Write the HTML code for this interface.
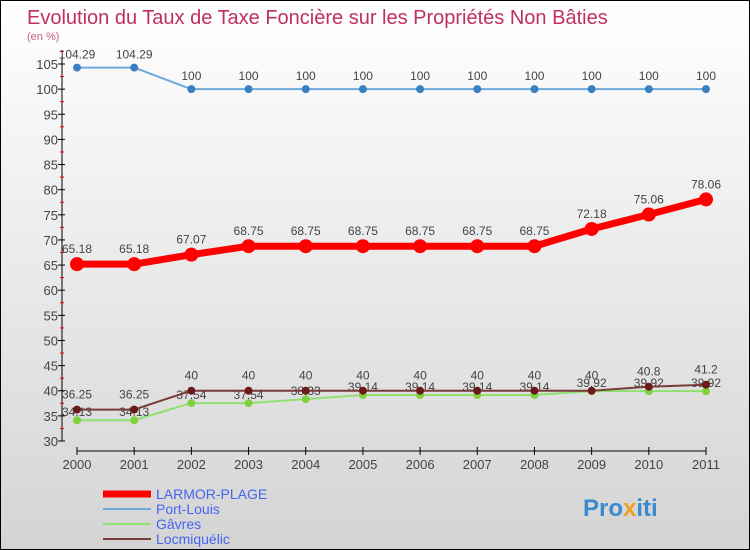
<!DOCTYPE html>
<html><head><meta charset="utf-8"><style>
body{margin:0;}
#wrap{width:750px;height:550px;position:relative;font-family:"Liberation Sans",sans-serif;background:linear-gradient(#fff,#d4d4d4);border:1px solid #000;box-sizing:border-box;overflow:hidden}
</style></head><body>
<div id="wrap">
<svg id="chart" width="750" height="550" xmlns="http://www.w3.org/2000/svg">
<text x="26" y="23" font-size="20" fill="#c0305e">Evolution du Taux de Taxe Foncière sur les Propriétés Non Bâties</text>
<text x="26" y="39" font-size="11" fill="#c0608a">(en %)</text>
<g id="axes"></g><g id="series"></g>
<g>
<line x1="102" y1="493" x2="150" y2="493" stroke="#f00" stroke-width="7"/>
<text x="155" y="498" font-size="14" fill="#4466ee">LARMOR-PLAGE</text>
<line x1="102" y1="508" x2="150" y2="508" stroke="#6fa8dc" stroke-width="2"/>
<text x="155" y="513" font-size="14" fill="#4466ee">Port-Louis</text>
<line x1="102" y1="523" x2="150" y2="523" stroke="#90e070" stroke-width="2"/>
<text x="155" y="528" font-size="14" fill="#4466ee">Gâvres</text>
<line x1="102" y1="538" x2="150" y2="538" stroke="#7a3a3a" stroke-width="2"/>
<text x="155" y="543" font-size="14" fill="#4466ee">Locmiquélic</text>
</g>
<text x="582" y="515" font-size="24" font-weight="bold" fill="#3a8ad0">Pro<tspan fill="#f0a020">x</tspan>iti</text>
</svg>
</div>
<script>
const years=["2000","2001","2002","2003","2004","2005","2006","2007","2008","2009","2010","2011"];
const yTicks=[30,35,40,45,50,55,60,65,70,75,80,85,90,95,100,105];
const larmor=[65.18,65.18,67.07,68.75,68.75,68.75,68.75,68.75,68.75,72.18,75.06,78.06];
const portLouis=[104.29,104.29,100,100,100,100,100,100,100,100,100,100];
const gavres=[34.13,34.13,37.54,37.54,38.33,39.14,39.14,39.14,39.14,39.92,39.92,39.92];
const locmi=[36.25,36.25,40,40,40,40,40,40,40,40,40.8,41.2];
const NS="http://www.w3.org/2000/svg";
const X=i=>76+i*(705-76)/11;
const Y=v=>440-(v-30)*(440-63)/75;
function mk(t,a,p){const e=document.createElementNS(NS,t);for(const k in a)e.setAttribute(k,a[k]);p.appendChild(e);return e;}
const ax=document.getElementById('axes'),sg=document.getElementById('series');
const yl=mk('line',{x1:61,y1:55,x2:61,y2:440,stroke:'#000'},ax);


yTicks.forEach(v=>{
 mk('line',{x1:57,y1:Y(v),x2:64,y2:Y(v),stroke:'#000'},ax);
 mk('line',{x1:59,y1:Y(v+2.5),x2:63,y2:Y(v+2.5),stroke:'#e00'},ax);
 const t=mk('text',{x:57,y:Y(v)+5,'text-anchor':'end','font-size':13,fill:'#444'},ax);t.textContent=v;
 
 
});
const xl=mk('line',{x1:X(0),y1:450,x2:X(11),y2:450,stroke:'#000'},ax);


years.forEach((y,i)=>{
 mk('line',{x1:X(i),y1:446,x2:X(i),y2:454,stroke:'#000'},ax);
 const t=mk('text',{x:X(i),y:468,'text-anchor':'middle','font-size':13,fill:'#444'},ax);t.textContent=y;
 
 
});
function series(d,name,col,w,r,dot,lblDy){
 const g=mk('g',{},sg);
 
 
 const pl=mk('polyline',{points:d.map((v,i)=>X(i)+','+Y(v)).join(' '),fill:'none',stroke:col,'stroke-width':w,'stroke-linejoin':'round'},g);
 
 
 d.forEach((v,i)=>{
  const c=mk('circle',{cx:X(i),cy:Y(v),r:r,fill:dot},g);
  
  
  const t=mk('text',{x:X(i),y:Y(v)+lblDy,'text-anchor':'middle','font-size':12,fill:'#444'},g);t.textContent=v;
  
  
 });
}
series(gavres,'gavres','#90e070',2,4,'#80d040',-4);
series(locmi,'locmiquelic','#7a3a3a',2,4,'#6a1a1a',-11);
series(portLouis,'port-louis','#6fa8dc',2,4,'#3a80c0',-9);
series(larmor,'larmor-plage','#f00',7,7,'#f00',-11);
</script>
</body></html>
